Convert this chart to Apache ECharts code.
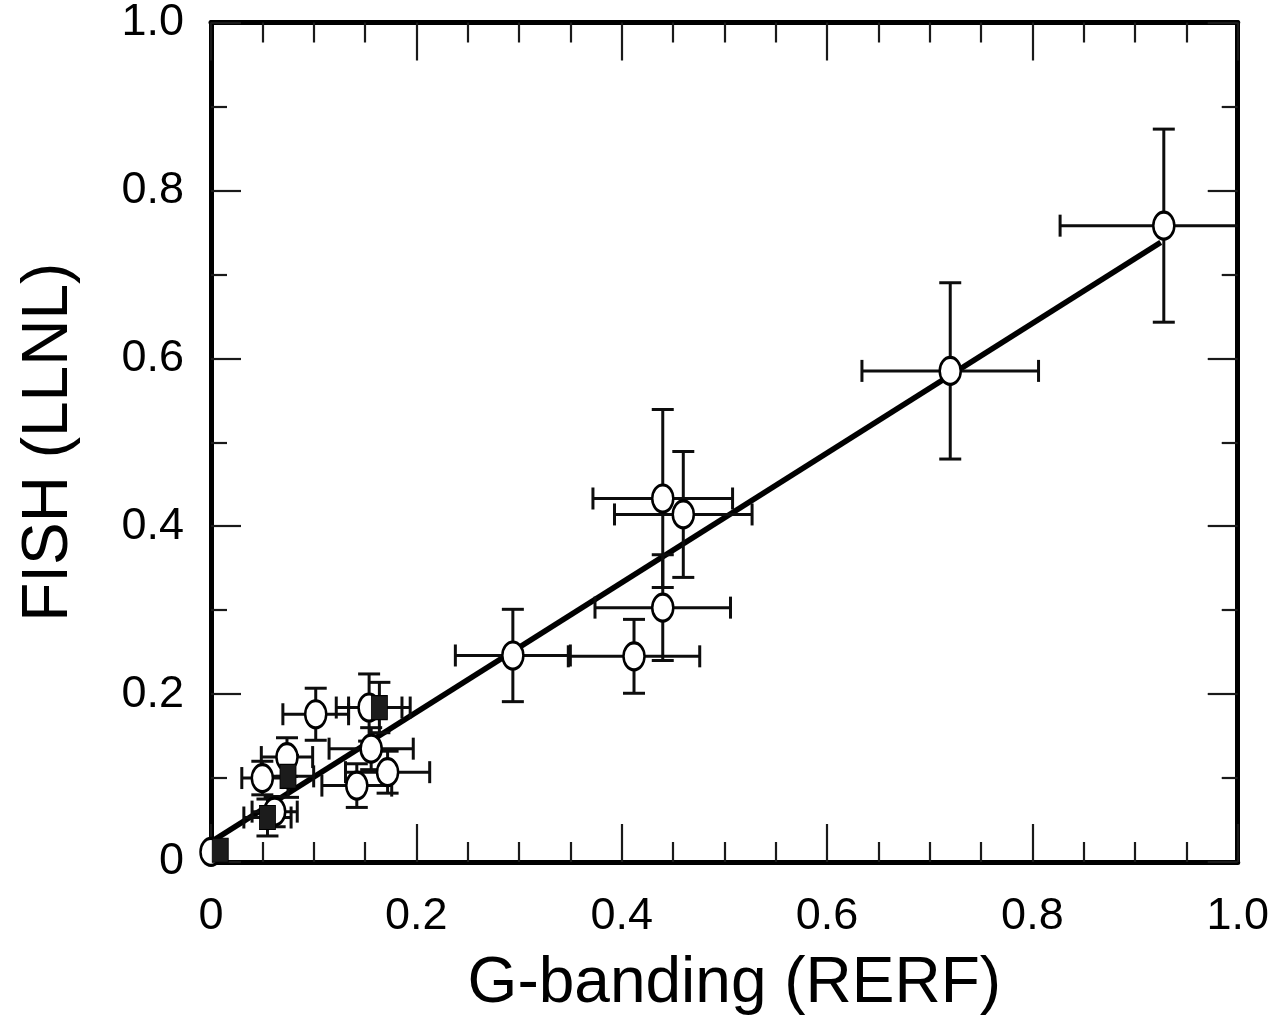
<!DOCTYPE html>
<html>
<head>
<meta charset="utf-8">
<script src="https://cdn.jsdelivr.net/npm/echarts@6/dist/echarts.min.js"></script>
<style>
html,body{margin:0;padding:0;background:#fff;}
#chart{width:1272px;height:1026px;}
</style>
</head>
<body>
<div id="chart"></div>
<script>
// Open circles: x (G-banding RERF), y (FISH LLNL), symmetric errors
const openX    = [0.928, 0.720, 0.440, 0.460, 0.440, 0.412, 0.294, 0.102, 0.154, 0.156, 0.172, 0.142, 0.074, 0.050, 0.062, 0.000];
const openY    = [0.758, 0.585, 0.433, 0.414, 0.303, 0.245, 0.246, 0.176, 0.184, 0.135, 0.107, 0.091, 0.125, 0.100, 0.060, 0.012];
const openXErr = [0.101, 0.086, 0.068, 0.067, 0.066, 0.064, 0.056, 0.032, 0.032, 0.041, 0.041, 0.034, 0.025, 0.020, 0.022, 0.000];
const openYErr = [0.115, 0.105, 0.106, 0.075, 0.063, 0.044, 0.055, 0.031, 0.040, 0.025, 0.025, 0.026, 0.023, 0.020, 0.018, 0.000];
// Filled squares
const filledX    = [0.164, 0.075, 0.055, 0.009];
const filledY    = [0.184, 0.102, 0.053, 0.014];
const filledXErr = [0.030, 0.025, 0.023, 0.000];
const filledYErr = [0.030, 0.025, 0.022, 0.000];
// Fitted line endpoints
const fitX = [0.000, 0.925];
const fitY = [0.024, 0.738];
// Axis ticks
const xTicks = [0, 0.2, 0.4, 0.6, 0.8, 1.0];
const yTicks = [0, 0.2, 0.4, 0.6, 0.8, 1.0];
const tickText = v => (Math.abs(v) < 1e-9 ? '0' : v.toFixed(1));

const FONT = "'Liberation Sans', Arial, Helvetica, sans-serif";
const AXMIN = 0, AXMAX = 1;

function rows(xs, ys, xe, ye) {
  return xs.map((x, i) => [x, ys[i], xe[i], ye[i]]);
}
const openData = rows(openX, openY, openXErr, openYErr);
const filledData = rows(filledX, filledY, filledXErr, filledYErr);

function errItem(params, api) {
  const x = api.value(0), y = api.value(1), xe = api.value(2), ye = api.value(3);
  const style = {stroke: '#0d0d0d', lineWidth: 3};
  const cap = 11;
  const ch = [];
  if (xe > 0) {
    const lx = Math.max(x - xe, AXMIN), rx = Math.min(x + xe, AXMAX);
    const l = api.coord([lx, y]), r = api.coord([rx, y]);
    ch.push({type: 'line', shape: {x1: l[0], y1: l[1], x2: r[0], y2: r[1]}, style});
    if (x - xe >= AXMIN) ch.push({type: 'line', shape: {x1: l[0], y1: l[1] - cap, x2: l[0], y2: l[1] + cap}, style});
    if (x + xe <= AXMAX) ch.push({type: 'line', shape: {x1: r[0], y1: r[1] - cap, x2: r[0], y2: r[1] + cap}, style});
  }
  if (ye > 0) {
    const t = api.coord([x, Math.min(y + ye, AXMAX)]), b = api.coord([x, Math.max(y - ye, AXMIN)]);
    ch.push({type: 'line', shape: {x1: t[0], y1: t[1], x2: b[0], y2: b[1]}, style});
    ch.push({type: 'line', shape: {x1: t[0] - cap, y1: t[1], x2: t[0] + cap, y2: t[1]}, style});
    ch.push({type: 'line', shape: {x1: b[0] - cap, y1: b[1], x2: b[0] + cap, y2: b[1]}, style});
  }
  return {type: 'group', children: ch};
}

const chart = echarts.init(document.getElementById('chart'), null, {renderer: 'canvas'});

const baseX = {
  type: 'value', min: 0, max: 1, interval: 0.2,
  axisLine: {show: true, onZero: false, lineStyle: {color: '#000', width: 5}},
  axisTick: {show: true, inside: true, length: 38, lineStyle: {color: '#1a1a1a', width: 2.2}},
  minorTick: {show: true, splitNumber: 4, length: 20, lineStyle: {color: '#1a1a1a', width: 2.2}},
  splitLine: {show: false}, minorSplitLine: {show: false}
};
const baseY = {
  type: 'value', min: 0, max: 1, interval: 0.2,
  axisLine: {show: true, onZero: false, lineStyle: {color: '#000', width: 5}},
  axisTick: {show: true, inside: true, length: 30, lineStyle: {color: '#1a1a1a', width: 2.2}},
  minorTick: {show: true, splitNumber: 2, length: 16, lineStyle: {color: '#1a1a1a', width: 2.2}},
  splitLine: {show: false}, minorSplitLine: {show: false}
};

chart.setOption({
  animation: false,
  backgroundColor: '#fff',
  grid: {left: 211, right: 29, top: 20, bottom: 164, containLabel: false},
  xAxis: [
    Object.assign({}, baseX, {
      position: 'bottom',
      axisLabel: {show: true, margin: 32, color: '#000', fontSize: 45, fontFamily: FONT,
        customValues: xTicks, formatter: tickText},
      name: 'G-banding (RERF)', nameLocation: 'middle', nameGap: 90,
      nameTextStyle: {color: '#000', fontSize: 64, fontFamily: FONT, padding: [0, 0, 0, 20]}
    }),
    Object.assign({}, baseX, {position: 'top', axisLabel: {show: false}})
  ],
  yAxis: [
    Object.assign({}, baseY, {
      position: 'left',
      axisLabel: {show: true, margin: 27, color: '#000', fontSize: 45, fontFamily: FONT,
        customValues: yTicks, formatter: tickText},
      name: 'FISH (LLNL)', nameLocation: 'middle', nameGap: 130,
      nameTextStyle: {color: '#000', fontSize: 64, fontFamily: FONT}
    }),
    Object.assign({}, baseY, {position: 'right', axisLabel: {show: false}})
  ],
  series: [
    {
      type: 'line', xAxisIndex: 0, yAxisIndex: 0, z: 2,
      data: fitX.map((x, i) => [x, fitY[i]]),
      symbol: 'none', lineStyle: {color: '#000', width: 5.5}, silent: true
    },
    {
      type: 'custom', xAxisIndex: 0, yAxisIndex: 0, z: 3,
      renderItem: errItem, data: openData, silent: true
    },
    {
      type: 'custom', xAxisIndex: 0, yAxisIndex: 0, z: 3,
      renderItem: errItem, data: filledData, silent: true
    },
    {
      type: 'scatter', xAxisIndex: 0, yAxisIndex: 0, z: 4, clip: false,
      data: openData.map(d => [d[0], d[1]]),
      symbol: 'circle', symbolSize: [21, 27],
      itemStyle: {color: '#fff', borderColor: '#000', borderWidth: 2.8, opacity: 1}
    },
    {
      type: 'scatter', xAxisIndex: 0, yAxisIndex: 0, z: 5, clip: false,
      data: filledData.map(d => [d[0], d[1]]),
      symbol: 'rect', symbolSize: [16, 24],
      itemStyle: {color: '#1c1c1c', borderColor: '#000', borderWidth: 1, opacity: 1}
    }
  ]
});
</script>
</body>
</html>
